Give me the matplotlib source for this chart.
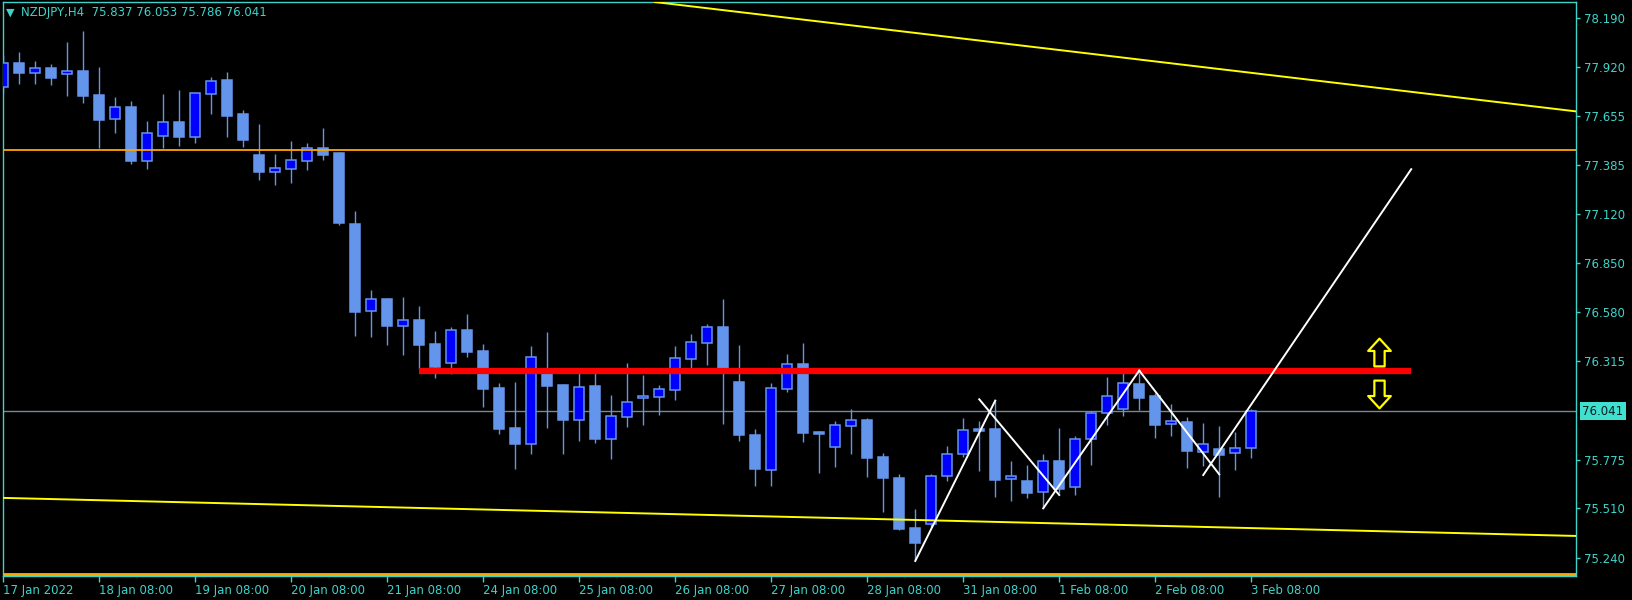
import numpy as np
import matplotlib
matplotlib.use('Agg')
import matplotlib.pyplot as plt
from matplotlib.path import Path

# NZDJPY H4 candles, 17 Jan 2022 08:00 .. 3 Feb 2022 08:00
opens = [77.814, 77.942, 77.891, 77.915, 77.882, 77.900, 77.767, 77.636, 77.702, 77.410,
         77.547, 77.620, 77.541, 77.776, 77.851, 77.665, 77.441, 77.350, 77.366, 77.410,
         77.478, 77.452, 77.064, 76.590, 76.654, 76.508, 76.539, 76.408, 76.306, 76.484,
         76.370, 76.167, 75.949, 75.863, 76.260, 76.184, 75.994, 76.178, 75.890, 76.010,
         76.111, 76.120, 76.158, 76.327, 76.415, 76.501, 76.200, 75.910, 75.721, 76.163,
         76.298, 75.927, 75.846, 75.961, 75.992, 75.790, 75.675, 75.402, 75.424, 75.684,
         75.805, 75.945, 75.945, 75.668, 75.659, 75.597, 75.768, 75.624, 75.887, 76.029,
         76.051, 76.189, 76.124, 75.969, 75.981, 75.819, 75.834, 75.810, 75.837]
highs = [77.988, 78.002, 77.955, 77.937, 78.057, 78.119, 77.920, 77.756, 77.736, 77.625,
         77.775, 77.796, 77.782, 77.866, 77.895, 77.687, 77.611, 77.447, 77.518, 77.507,
         77.589, 77.455, 77.135, 76.703, 76.659, 76.665, 76.616, 76.479, 76.502, 76.572,
         76.408, 76.195, 76.200, 76.397, 76.473, 76.186, 76.271, 76.277, 76.129, 76.304,
         76.238, 76.182, 76.397, 76.462, 76.517, 76.654, 76.402, 75.943, 76.195, 76.353,
         76.413, 75.932, 75.987, 76.052, 76.002, 75.812, 75.695, 75.506, 75.697, 75.850,
         76.003, 75.988, 76.102, 75.768, 75.746, 75.806, 75.949, 75.905, 76.040, 76.227,
         76.271, 76.262, 76.138, 76.080, 76.010, 75.974, 75.960, 75.928, 76.053]
lows = [77.780, 77.829, 77.831, 77.824, 77.764, 77.727, 77.481, 77.563, 77.392, 77.364,
        77.481, 77.492, 77.508, 77.667, 77.541, 77.486, 77.304, 77.277, 77.288, 77.359,
        77.414, 77.058, 76.452, 76.446, 76.402, 76.348, 76.269, 76.222, 76.244, 76.337,
        76.063, 75.916, 75.724, 75.808, 75.950, 75.808, 75.877, 75.868, 75.779, 75.956,
        75.965, 76.020, 76.103, 76.271, 76.293, 75.970, 75.877, 75.633, 75.633, 76.145,
        75.872, 75.704, 75.737, 75.806, 75.682, 75.491, 75.391, 75.227, 75.409, 75.660,
        75.792, 75.715, 75.573, 75.551, 75.568, 75.510, 75.592, 75.584, 75.748, 75.965,
        76.014, 76.047, 75.896, 75.905, 75.732, 75.741, 75.573, 75.719, 75.786]
closes = [77.942, 77.891, 77.915, 77.864, 77.899, 77.765, 77.634, 77.702, 77.410, 77.560,
          77.620, 77.541, 77.778, 77.846, 77.654, 77.525, 77.350, 77.368, 77.412, 77.478,
          77.443, 77.071, 76.584, 76.654, 76.508, 76.537, 76.404, 76.282, 76.484, 76.364,
          76.163, 75.943, 75.863, 76.335, 76.178, 75.992, 76.171, 75.888, 76.012, 76.089,
          76.122, 76.160, 76.330, 76.417, 76.499, 76.249, 75.910, 75.724, 76.166, 76.297,
          75.921, 75.914, 75.963, 75.991, 75.786, 75.677, 75.396, 75.321, 75.686, 75.805,
          75.938, 75.934, 75.666, 75.686, 75.595, 75.767, 75.617, 75.887, 76.029, 76.122,
          76.193, 76.114, 75.965, 75.985, 75.824, 75.859, 75.801, 75.839, 76.041]

date_labels = ['17 Jan 2022', '18 Jan 08:00', '19 Jan 08:00', '20 Jan 08:00', '21 Jan 08:00',
               '24 Jan 08:00', '25 Jan 08:00', '26 Jan 08:00', '27 Jan 08:00', '28 Jan 08:00',
               '31 Jan 08:00', '1 Feb 08:00', '2 Feb 08:00', '3 Feb 08:00']
price_ticks = [78.190, 77.920, 77.655, 77.385, 77.120, 76.850, 76.580, 76.315,
               75.775, 75.510, 75.240]

last_price = 76.041
orange_level = 77.470
bottom_level = 75.147
red_level = 76.260
red_span = [26, 88]
# trendlines: two anchor points each (bar, price)
upper_trend = [(41.2, 78.272), (98.3, 77.679)]
lower_trend = [(0.0, 75.566), (98.3, 75.358)]
# white zigzag segments: (bar0, bar1), (price0, price1)
zig_bars = [(57, 62), (61, 66), (65, 71), (71, 76), (75, 88)]
zig_prices = [(75.221, 76.098), (76.105, 75.582), (75.509, 76.262), (76.262, 75.695), (75.691, 77.363)]
arrow_bar = 86
arrow_up_price = 76.361
arrow_down_price = 76.134

FG = '#3ED3C9'
WICK = '#6495ED'
BULL = '#0000FF'

# hollow block arrow shape used as a marker
up_verts = [(0, 13.5), (11, 1.5), (5, 1.5), (5, -13.5), (-5, -13.5), (-5, 1.5), (-11, 1.5), (0, 13.5)]
up_arrow = Path(up_verts, closed=True)
down_arrow = Path([(vx, -vy) for vx, vy in up_verts], closed=True)

fig = plt.figure(figsize=(16.33, 6.0), dpi=100, facecolor='black')
ax = fig.add_axes([3 / 1633, 24 / 600, 1573 / 1633, 574 / 600], facecolor='black')

x = np.arange(len(opens))
o = np.array(opens); c = np.array(closes)
bull = c >= o
bottoms = np.minimum(o, c)
heights = np.maximum(np.abs(c - o), 0.004)

ax.axhline(last_price, color='#778899', lw=1, zorder=1)
ax.vlines(x, lows, highs, colors=WICK, lw=1, zorder=2)
ax.bar(x, heights, bottom=bottoms, width=0.64,
       color=np.where(bull, BULL, WICK), edgecolor=WICK, linewidth=1.1, zorder=3)

# objects on top of the candles
ax.axhline(orange_level, color='#FFA500', lw=1.3, zorder=4)
ax.axhline(bottom_level, color='#FFA500', lw=3.5, zorder=4)
ax.axline(*upper_trend, color='#FFFF00', lw=1.4, zorder=4)
ax.axline(*lower_trend, color='#FFFF00', lw=1.4, zorder=4)
ax.plot(red_span, [red_level, red_level], color='#FF0000', lw=4.5, solid_capstyle='butt', zorder=5)
for (b0, b1), (p0, p1) in zip(zig_bars, zig_prices):
    ax.plot([b0, b1], [p0, p1], color='white', lw=1.4, zorder=6)
ax.plot(arrow_bar, arrow_up_price, marker=up_arrow, markersize=20, mfc='black',
        mec='#FFFF00', mew=1.6, zorder=7)
ax.plot(arrow_bar, arrow_down_price, marker=down_arrow, markersize=20, mfc='black',
        mec='#FFFF00', mew=1.6, zorder=7)

ax.set_xlim(-0.02, 98.3)
ax.set_ylim(75.139, 78.277)

ax.yaxis.tick_right()
ax.set_yticks(price_ticks)
ax.set_yticklabels([f'{p:.3f}' for p in price_ticks])
ax.set_xticks(np.arange(0, len(opens), 6))
ax.set_xticklabels(date_labels)
for lab in ax.get_xticklabels():
    lab.set_ha('left')
ax.tick_params(axis='y', colors=FG, labelsize=8.5, length=3, width=1, pad=3)
ax.tick_params(axis='x', colors=FG, labelsize=8.5, length=4, width=1, pad=2)
for sp in ax.spines.values():
    sp.set_color(FG)
    sp.set_linewidth(1)

ax.text(1.004, last_price, f'{last_price:.3f}', transform=ax.get_yaxis_transform(),
        ha='left', va='center', fontsize=8.5, color='#062020', zorder=8,
        bbox=dict(boxstyle='square,pad=0.18', fc='#40E0D0', ec='none'), clip_on=False)

fig.text(10 / 1633, 1 - 12.5 / 600, '\u25bc', color=FG, fontsize=8, ha='center', va='center')
fig.text(21 / 1633, 1 - 12.5 / 600, 'NZDJPY,H4  75.837 76.053 75.786 76.041',
         color=FG, fontsize=8.5, ha='left', va='center')

fig.savefig('out.png', dpi=100, facecolor='black')
